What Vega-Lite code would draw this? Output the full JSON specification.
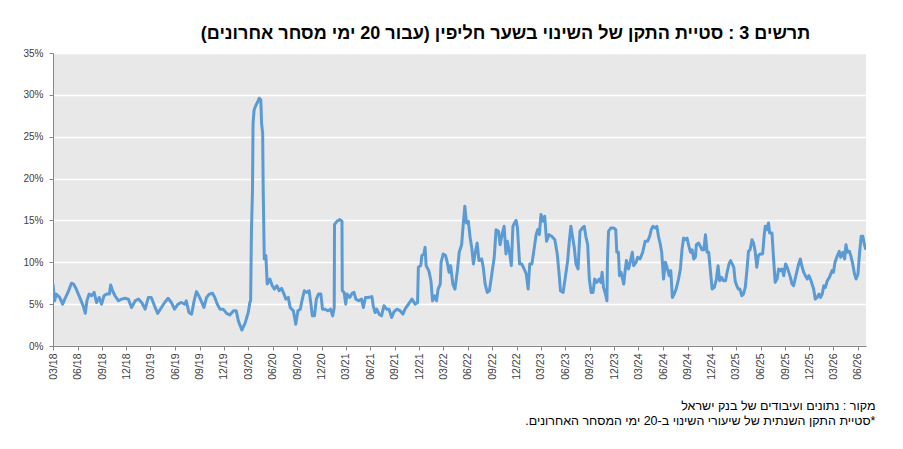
{
  "$schema": "https://vega.github.io/schema/vega-lite/v6.json",
  "width": 813,
  "height": 293,
  "autosize": {"type": "none"},
  "padding": {"left": 53, "top": 53, "right": 37, "bottom": 103},
  "background": "white",
  "title": {
    "text": "תרשים 3 : סטיית התקן של השינוי בשער חליפין (עבור 20 ימי מסחר אחרונים)‏",
    "font": "Liberation Sans",
    "fontSize": 18,
    "fontWeight": "bold",
    "color": "#000000",
    "anchor": "middle",
    "dx": 46,
    "offset": 5
  },
  "config": {
    "font": "Liberation Sans",
    "view": {"fill": "#e8e8e8", "stroke": null}
  },
  "data": {
    "values": [
      {"date": "2018-03-01", "sd": 7.4},
      {"date": "2018-03-07", "sd": 5.4},
      {"date": "2018-03-13", "sd": 6.2},
      {"date": "2018-03-26", "sd": 5.8},
      {"date": "2018-04-06", "sd": 5.0},
      {"date": "2018-04-14", "sd": 5.6},
      {"date": "2018-04-26", "sd": 6.4},
      {"date": "2018-05-09", "sd": 7.5},
      {"date": "2018-05-17", "sd": 7.4},
      {"date": "2018-05-27", "sd": 6.8},
      {"date": "2018-06-09", "sd": 5.8},
      {"date": "2018-06-22", "sd": 4.8},
      {"date": "2018-06-30", "sd": 3.9},
      {"date": "2018-07-06", "sd": 5.4},
      {"date": "2018-07-14", "sd": 6.2},
      {"date": "2018-07-23", "sd": 6.0},
      {"date": "2018-08-02", "sd": 6.4},
      {"date": "2018-08-11", "sd": 5.2},
      {"date": "2018-08-21", "sd": 5.8},
      {"date": "2018-08-30", "sd": 5.0},
      {"date": "2018-09-08", "sd": 6.0},
      {"date": "2018-09-18", "sd": 6.2},
      {"date": "2018-09-28", "sd": 6.2},
      {"date": "2018-10-03", "sd": 7.3},
      {"date": "2018-10-10", "sd": 6.6},
      {"date": "2018-10-19", "sd": 6.0},
      {"date": "2018-11-01", "sd": 5.4},
      {"date": "2018-11-13", "sd": 5.6},
      {"date": "2018-11-26", "sd": 5.7},
      {"date": "2018-12-08", "sd": 5.6},
      {"date": "2018-12-20", "sd": 4.6},
      {"date": "2019-01-03", "sd": 5.4},
      {"date": "2019-01-15", "sd": 5.6},
      {"date": "2019-01-27", "sd": 5.2},
      {"date": "2019-02-09", "sd": 4.4},
      {"date": "2019-02-21", "sd": 5.8},
      {"date": "2019-03-04", "sd": 5.8},
      {"date": "2019-03-16", "sd": 4.8},
      {"date": "2019-03-28", "sd": 3.9},
      {"date": "2019-04-11", "sd": 4.6},
      {"date": "2019-04-23", "sd": 5.2},
      {"date": "2019-05-06", "sd": 5.7},
      {"date": "2019-05-18", "sd": 5.2},
      {"date": "2019-05-30", "sd": 4.4},
      {"date": "2019-06-12", "sd": 5.0},
      {"date": "2019-06-25", "sd": 5.2},
      {"date": "2019-07-07", "sd": 5.0},
      {"date": "2019-07-13", "sd": 5.4},
      {"date": "2019-07-23", "sd": 4.0},
      {"date": "2019-08-02", "sd": 3.8},
      {"date": "2019-08-10", "sd": 5.2},
      {"date": "2019-08-20", "sd": 6.5},
      {"date": "2019-08-29", "sd": 6.0},
      {"date": "2019-09-09", "sd": 5.2},
      {"date": "2019-09-17", "sd": 4.6},
      {"date": "2019-09-27", "sd": 5.8},
      {"date": "2019-10-07", "sd": 6.2},
      {"date": "2019-10-19", "sd": 6.3},
      {"date": "2019-10-28", "sd": 5.8},
      {"date": "2019-11-06", "sd": 5.0},
      {"date": "2019-11-16", "sd": 4.4},
      {"date": "2019-11-28", "sd": 4.4},
      {"date": "2019-12-11", "sd": 3.9},
      {"date": "2019-12-23", "sd": 3.7},
      {"date": "2020-01-06", "sd": 4.2},
      {"date": "2020-01-16", "sd": 4.2},
      {"date": "2020-01-24", "sd": 3.0},
      {"date": "2020-02-06", "sd": 1.9},
      {"date": "2020-02-18", "sd": 2.7},
      {"date": "2020-03-01", "sd": 4.0},
      {"date": "2020-03-07", "sd": 5.2},
      {"date": "2020-03-10", "sd": 5.4},
      {"date": "2020-03-13", "sd": 13.7},
      {"date": "2020-03-17", "sd": 18.7},
      {"date": "2020-03-19", "sd": 26.6},
      {"date": "2020-03-23", "sd": 28.2},
      {"date": "2020-03-29", "sd": 28.7},
      {"date": "2020-04-06", "sd": 29.2},
      {"date": "2020-04-11", "sd": 29.6},
      {"date": "2020-04-17", "sd": 29.4},
      {"date": "2020-04-20", "sd": 26.6},
      {"date": "2020-04-24", "sd": 25.4},
      {"date": "2020-04-26", "sd": 18.7},
      {"date": "2020-04-30", "sd": 10.4},
      {"date": "2020-05-06", "sd": 10.8},
      {"date": "2020-05-11", "sd": 7.4},
      {"date": "2020-05-21", "sd": 8.0},
      {"date": "2020-05-30", "sd": 7.2},
      {"date": "2020-06-07", "sd": 6.8},
      {"date": "2020-06-16", "sd": 7.2},
      {"date": "2020-06-25", "sd": 6.6},
      {"date": "2020-07-04", "sd": 6.9},
      {"date": "2020-07-13", "sd": 6.2},
      {"date": "2020-07-20", "sd": 5.6},
      {"date": "2020-07-29", "sd": 5.8},
      {"date": "2020-08-05", "sd": 4.6},
      {"date": "2020-08-17", "sd": 4.2},
      {"date": "2020-08-26", "sd": 2.6},
      {"date": "2020-09-03", "sd": 4.2},
      {"date": "2020-09-12", "sd": 4.4},
      {"date": "2020-09-18", "sd": 5.4},
      {"date": "2020-09-27", "sd": 6.6},
      {"date": "2020-10-07", "sd": 6.4},
      {"date": "2020-10-15", "sd": 6.6},
      {"date": "2020-10-21", "sd": 5.2},
      {"date": "2020-10-27", "sd": 3.6},
      {"date": "2020-11-04", "sd": 3.6},
      {"date": "2020-11-11", "sd": 5.6},
      {"date": "2020-11-19", "sd": 6.2},
      {"date": "2020-11-28", "sd": 6.2},
      {"date": "2020-12-04", "sd": 4.4},
      {"date": "2020-12-14", "sd": 4.4},
      {"date": "2020-12-24", "sd": 4.2},
      {"date": "2021-01-03", "sd": 4.4},
      {"date": "2021-01-11", "sd": 3.6},
      {"date": "2021-01-17", "sd": 4.6},
      {"date": "2021-01-18", "sd": 14.5},
      {"date": "2021-01-27", "sd": 14.9},
      {"date": "2021-02-07", "sd": 15.1},
      {"date": "2021-02-15", "sd": 14.9},
      {"date": "2021-02-16", "sd": 6.6},
      {"date": "2021-02-23", "sd": 6.4},
      {"date": "2021-03-01", "sd": 5.0},
      {"date": "2021-03-06", "sd": 6.2},
      {"date": "2021-03-16", "sd": 5.8},
      {"date": "2021-03-25", "sd": 6.3},
      {"date": "2021-04-01", "sd": 6.4},
      {"date": "2021-04-08", "sd": 5.6},
      {"date": "2021-04-19", "sd": 5.4},
      {"date": "2021-04-29", "sd": 5.6},
      {"date": "2021-05-06", "sd": 4.6},
      {"date": "2021-05-14", "sd": 5.8},
      {"date": "2021-05-24", "sd": 5.8},
      {"date": "2021-06-07", "sd": 5.9},
      {"date": "2021-06-12", "sd": 4.8},
      {"date": "2021-06-19", "sd": 4.0},
      {"date": "2021-06-25", "sd": 4.4},
      {"date": "2021-07-04", "sd": 3.8},
      {"date": "2021-07-13", "sd": 3.6},
      {"date": "2021-07-22", "sd": 4.8},
      {"date": "2021-08-02", "sd": 4.4},
      {"date": "2021-08-10", "sd": 4.4},
      {"date": "2021-08-20", "sd": 3.4},
      {"date": "2021-08-29", "sd": 4.1},
      {"date": "2021-09-09", "sd": 4.4},
      {"date": "2021-09-21", "sd": 4.2},
      {"date": "2021-10-01", "sd": 3.8},
      {"date": "2021-10-09", "sd": 4.4},
      {"date": "2021-10-22", "sd": 5.0},
      {"date": "2021-11-04", "sd": 5.6},
      {"date": "2021-11-16", "sd": 5.0},
      {"date": "2021-11-25", "sd": 5.2},
      {"date": "2021-11-28", "sd": 9.4},
      {"date": "2021-12-07", "sd": 9.6},
      {"date": "2021-12-11", "sd": 10.8},
      {"date": "2021-12-19", "sd": 11.0},
      {"date": "2021-12-23", "sd": 11.8},
      {"date": "2021-12-27", "sd": 9.6},
      {"date": "2022-01-06", "sd": 9.0},
      {"date": "2022-01-14", "sd": 7.8},
      {"date": "2022-01-20", "sd": 5.4},
      {"date": "2022-01-28", "sd": 6.0},
      {"date": "2022-02-04", "sd": 5.4},
      {"date": "2022-02-10", "sd": 6.8},
      {"date": "2022-02-18", "sd": 7.4},
      {"date": "2022-02-21", "sd": 10.0},
      {"date": "2022-03-01", "sd": 11.0},
      {"date": "2022-03-10", "sd": 10.8},
      {"date": "2022-03-16", "sd": 10.0},
      {"date": "2022-03-23", "sd": 8.8},
      {"date": "2022-03-29", "sd": 9.6},
      {"date": "2022-04-06", "sd": 7.4},
      {"date": "2022-04-14", "sd": 6.8},
      {"date": "2022-04-23", "sd": 9.0},
      {"date": "2022-04-30", "sd": 11.2},
      {"date": "2022-05-09", "sd": 12.1},
      {"date": "2022-05-15", "sd": 14.5},
      {"date": "2022-05-21", "sd": 16.7},
      {"date": "2022-05-27", "sd": 14.7},
      {"date": "2022-06-03", "sd": 14.9},
      {"date": "2022-06-10", "sd": 12.9},
      {"date": "2022-06-16", "sd": 11.7},
      {"date": "2022-06-22", "sd": 9.8},
      {"date": "2022-06-28", "sd": 11.0},
      {"date": "2022-07-06", "sd": 12.3},
      {"date": "2022-07-13", "sd": 10.2},
      {"date": "2022-07-23", "sd": 10.4},
      {"date": "2022-07-29", "sd": 9.4},
      {"date": "2022-08-05", "sd": 7.4},
      {"date": "2022-08-13", "sd": 6.4},
      {"date": "2022-08-21", "sd": 6.6},
      {"date": "2022-08-30", "sd": 8.6},
      {"date": "2022-09-08", "sd": 10.6},
      {"date": "2022-09-15", "sd": 13.9},
      {"date": "2022-09-24", "sd": 13.7},
      {"date": "2022-09-30", "sd": 12.1},
      {"date": "2022-10-07", "sd": 13.3},
      {"date": "2022-10-15", "sd": 14.3},
      {"date": "2022-10-22", "sd": 11.0},
      {"date": "2022-10-27", "sd": 12.5},
      {"date": "2022-11-05", "sd": 11.0},
      {"date": "2022-11-11", "sd": 9.6},
      {"date": "2022-11-17", "sd": 14.3},
      {"date": "2022-11-23", "sd": 14.7},
      {"date": "2022-11-29", "sd": 15.0},
      {"date": "2022-12-04", "sd": 14.1},
      {"date": "2022-12-12", "sd": 9.8},
      {"date": "2022-12-20", "sd": 9.8},
      {"date": "2022-12-29", "sd": 9.2},
      {"date": "2023-01-06", "sd": 8.6},
      {"date": "2023-01-13", "sd": 6.8},
      {"date": "2023-01-19", "sd": 9.8},
      {"date": "2023-01-27", "sd": 9.8},
      {"date": "2023-02-03", "sd": 11.3},
      {"date": "2023-02-12", "sd": 13.3},
      {"date": "2023-02-18", "sd": 13.9},
      {"date": "2023-02-24", "sd": 13.3},
      {"date": "2023-03-02", "sd": 15.7},
      {"date": "2023-03-10", "sd": 14.9},
      {"date": "2023-03-16", "sd": 15.5},
      {"date": "2023-03-23", "sd": 12.5},
      {"date": "2023-04-01", "sd": 13.3},
      {"date": "2023-04-11", "sd": 13.1},
      {"date": "2023-04-23", "sd": 12.7},
      {"date": "2023-05-02", "sd": 11.0},
      {"date": "2023-05-09", "sd": 8.6},
      {"date": "2023-05-14", "sd": 6.6},
      {"date": "2023-05-24", "sd": 6.4},
      {"date": "2023-06-03", "sd": 8.6},
      {"date": "2023-06-10", "sd": 10.2},
      {"date": "2023-06-16", "sd": 12.5},
      {"date": "2023-06-22", "sd": 14.3},
      {"date": "2023-06-29", "sd": 12.9},
      {"date": "2023-07-05", "sd": 11.7},
      {"date": "2023-07-11", "sd": 9.8},
      {"date": "2023-07-19", "sd": 9.2},
      {"date": "2023-07-26", "sd": 13.7},
      {"date": "2023-08-04", "sd": 14.1},
      {"date": "2023-08-11", "sd": 14.3},
      {"date": "2023-08-17", "sd": 13.1},
      {"date": "2023-08-24", "sd": 12.1},
      {"date": "2023-08-30", "sd": 8.0},
      {"date": "2023-09-06", "sd": 6.4},
      {"date": "2023-09-13", "sd": 6.4},
      {"date": "2023-09-19", "sd": 8.0},
      {"date": "2023-09-27", "sd": 7.6},
      {"date": "2023-10-06", "sd": 8.0},
      {"date": "2023-10-12", "sd": 7.6},
      {"date": "2023-10-17", "sd": 8.8},
      {"date": "2023-10-22", "sd": 7.0},
      {"date": "2023-10-28", "sd": 6.4},
      {"date": "2023-11-04", "sd": 5.4},
      {"date": "2023-11-06", "sd": 10.3},
      {"date": "2023-11-10", "sd": 13.7},
      {"date": "2023-11-19", "sd": 14.1},
      {"date": "2023-11-29", "sd": 14.1},
      {"date": "2023-12-07", "sd": 13.9},
      {"date": "2023-12-11", "sd": 11.2},
      {"date": "2023-12-17", "sd": 11.2},
      {"date": "2023-12-21", "sd": 8.4},
      {"date": "2023-12-27", "sd": 8.8},
      {"date": "2024-01-06", "sd": 7.4},
      {"date": "2024-01-12", "sd": 9.2},
      {"date": "2024-01-16", "sd": 10.2},
      {"date": "2024-01-24", "sd": 9.2},
      {"date": "2024-01-30", "sd": 10.0},
      {"date": "2024-02-07", "sd": 11.2},
      {"date": "2024-02-12", "sd": 9.6},
      {"date": "2024-02-21", "sd": 10.0},
      {"date": "2024-02-27", "sd": 10.6},
      {"date": "2024-03-07", "sd": 10.4},
      {"date": "2024-03-17", "sd": 11.2},
      {"date": "2024-03-26", "sd": 12.5},
      {"date": "2024-04-04", "sd": 12.5},
      {"date": "2024-04-12", "sd": 13.1},
      {"date": "2024-04-18", "sd": 13.9},
      {"date": "2024-04-24", "sd": 14.3},
      {"date": "2024-05-03", "sd": 14.1},
      {"date": "2024-05-09", "sd": 14.3},
      {"date": "2024-05-15", "sd": 13.1},
      {"date": "2024-05-21", "sd": 12.3},
      {"date": "2024-05-27", "sd": 11.2},
      {"date": "2024-06-03", "sd": 8.0},
      {"date": "2024-06-10", "sd": 10.0},
      {"date": "2024-06-16", "sd": 9.4},
      {"date": "2024-06-24", "sd": 8.4},
      {"date": "2024-06-30", "sd": 9.0},
      {"date": "2024-07-06", "sd": 5.8},
      {"date": "2024-07-13", "sd": 6.2},
      {"date": "2024-07-20", "sd": 6.8},
      {"date": "2024-07-29", "sd": 8.0},
      {"date": "2024-08-05", "sd": 9.2},
      {"date": "2024-08-11", "sd": 11.5},
      {"date": "2024-08-17", "sd": 12.9},
      {"date": "2024-08-23", "sd": 12.7},
      {"date": "2024-08-30", "sd": 12.9},
      {"date": "2024-09-06", "sd": 11.9},
      {"date": "2024-09-12", "sd": 11.2},
      {"date": "2024-09-18", "sd": 11.5},
      {"date": "2024-09-24", "sd": 10.4},
      {"date": "2024-09-30", "sd": 10.6},
      {"date": "2024-10-04", "sd": 12.1},
      {"date": "2024-10-12", "sd": 12.3},
      {"date": "2024-10-19", "sd": 11.9},
      {"date": "2024-10-25", "sd": 11.5},
      {"date": "2024-11-01", "sd": 11.5},
      {"date": "2024-11-07", "sd": 13.3},
      {"date": "2024-11-13", "sd": 11.2},
      {"date": "2024-11-19", "sd": 11.2},
      {"date": "2024-11-26", "sd": 8.8},
      {"date": "2024-12-02", "sd": 6.8},
      {"date": "2024-12-10", "sd": 7.0},
      {"date": "2024-12-18", "sd": 8.0},
      {"date": "2024-12-24", "sd": 9.6},
      {"date": "2024-12-30", "sd": 7.8},
      {"date": "2025-01-06", "sd": 8.2},
      {"date": "2025-01-13", "sd": 7.8},
      {"date": "2025-01-21", "sd": 7.8},
      {"date": "2025-01-27", "sd": 8.8},
      {"date": "2025-02-03", "sd": 9.8},
      {"date": "2025-02-09", "sd": 10.2},
      {"date": "2025-02-15", "sd": 9.8},
      {"date": "2025-02-21", "sd": 9.4},
      {"date": "2025-02-26", "sd": 7.8},
      {"date": "2025-03-04", "sd": 7.2},
      {"date": "2025-03-10", "sd": 6.8},
      {"date": "2025-03-16", "sd": 6.8},
      {"date": "2025-03-23", "sd": 6.0},
      {"date": "2025-03-29", "sd": 6.2},
      {"date": "2025-04-05", "sd": 7.0},
      {"date": "2025-04-11", "sd": 9.0},
      {"date": "2025-04-17", "sd": 11.3},
      {"date": "2025-04-23", "sd": 11.5},
      {"date": "2025-04-30", "sd": 12.7},
      {"date": "2025-05-06", "sd": 12.3},
      {"date": "2025-05-12", "sd": 11.3},
      {"date": "2025-05-18", "sd": 9.4},
      {"date": "2025-05-24", "sd": 10.8},
      {"date": "2025-05-30", "sd": 11.0},
      {"date": "2025-06-09", "sd": 11.0},
      {"date": "2025-06-15", "sd": 13.3},
      {"date": "2025-06-19", "sd": 14.3},
      {"date": "2025-06-25", "sd": 13.9},
      {"date": "2025-07-01", "sd": 14.7},
      {"date": "2025-07-05", "sd": 13.5},
      {"date": "2025-07-14", "sd": 13.5},
      {"date": "2025-07-20", "sd": 10.4},
      {"date": "2025-07-26", "sd": 7.6},
      {"date": "2025-08-02", "sd": 8.0},
      {"date": "2025-08-08", "sd": 9.2},
      {"date": "2025-08-14", "sd": 9.0},
      {"date": "2025-08-21", "sd": 9.2},
      {"date": "2025-08-27", "sd": 8.4},
      {"date": "2025-09-03", "sd": 9.8},
      {"date": "2025-09-09", "sd": 9.4},
      {"date": "2025-09-15", "sd": 8.8},
      {"date": "2025-09-21", "sd": 8.2},
      {"date": "2025-09-27", "sd": 7.4},
      {"date": "2025-10-03", "sd": 7.2},
      {"date": "2025-10-10", "sd": 8.2},
      {"date": "2025-10-16", "sd": 9.0},
      {"date": "2025-10-22", "sd": 9.8},
      {"date": "2025-10-28", "sd": 10.4},
      {"date": "2025-11-04", "sd": 9.4},
      {"date": "2025-11-10", "sd": 8.8},
      {"date": "2025-11-16", "sd": 8.4},
      {"date": "2025-11-23", "sd": 8.0},
      {"date": "2025-11-29", "sd": 8.4},
      {"date": "2025-12-05", "sd": 8.0},
      {"date": "2025-12-11", "sd": 7.4},
      {"date": "2025-12-17", "sd": 6.8},
      {"date": "2025-12-23", "sd": 5.6},
      {"date": "2025-12-30", "sd": 5.8},
      {"date": "2026-01-06", "sd": 6.2},
      {"date": "2026-01-12", "sd": 5.8},
      {"date": "2026-01-18", "sd": 6.2},
      {"date": "2026-01-24", "sd": 7.2},
      {"date": "2026-01-30", "sd": 7.0},
      {"date": "2026-02-06", "sd": 7.8},
      {"date": "2026-02-14", "sd": 8.2},
      {"date": "2026-02-24", "sd": 9.0},
      {"date": "2026-03-01", "sd": 8.8},
      {"date": "2026-03-07", "sd": 10.0},
      {"date": "2026-03-16", "sd": 10.8},
      {"date": "2026-03-23", "sd": 11.3},
      {"date": "2026-03-28", "sd": 10.6},
      {"date": "2026-04-06", "sd": 11.2},
      {"date": "2026-04-12", "sd": 10.4},
      {"date": "2026-04-17", "sd": 12.1},
      {"date": "2026-04-23", "sd": 11.2},
      {"date": "2026-04-30", "sd": 11.3},
      {"date": "2026-05-05", "sd": 10.8},
      {"date": "2026-05-11", "sd": 10.0},
      {"date": "2026-05-19", "sd": 8.6},
      {"date": "2026-05-25", "sd": 8.0},
      {"date": "2026-06-01", "sd": 8.6},
      {"date": "2026-06-07", "sd": 11.2},
      {"date": "2026-06-13", "sd": 13.1},
      {"date": "2026-06-19", "sd": 13.1},
      {"date": "2026-06-25", "sd": 12.1},
      {"date": "2026-07-01", "sd": 11.5}
    ]
  },
  "mark": {
    "type": "line",
    "color": "#5b9bd5",
    "strokeWidth": 3,
    "strokeJoin": "round",
    "clip": true
  },
  "encoding": {
    "x": {
      "field": "date",
      "type": "temporal",
      "scale": {
        "type": "utc",
        "domain": [
          {"year": 2018, "month": 3, "date": 1, "utc": true},
          {"year": 2026, "month": 7, "date": 1, "utc": true}
        ]
      },
      "axis": {
        "format": "%m/%y",
        "labelAngle": -90,
        "labelFontSize": 10.5,
        "labelColor": "#404040",
        "labelPadding": 3,
        "tickSize": 4,
        "tickColor": "#868686",
        "domainColor": "#868686",
        "grid": false,
        "labelOverlap": false,
        "values": [
          {"year": 2018, "month": 3, "date": 1, "utc": true},
          {"year": 2018, "month": 6, "date": 1, "utc": true},
          {"year": 2018, "month": 9, "date": 1, "utc": true},
          {"year": 2018, "month": 12, "date": 1, "utc": true},
          {"year": 2019, "month": 3, "date": 1, "utc": true},
          {"year": 2019, "month": 6, "date": 1, "utc": true},
          {"year": 2019, "month": 9, "date": 1, "utc": true},
          {"year": 2019, "month": 12, "date": 1, "utc": true},
          {"year": 2020, "month": 3, "date": 1, "utc": true},
          {"year": 2020, "month": 6, "date": 1, "utc": true},
          {"year": 2020, "month": 9, "date": 1, "utc": true},
          {"year": 2020, "month": 12, "date": 1, "utc": true},
          {"year": 2021, "month": 3, "date": 1, "utc": true},
          {"year": 2021, "month": 6, "date": 1, "utc": true},
          {"year": 2021, "month": 9, "date": 1, "utc": true},
          {"year": 2021, "month": 12, "date": 1, "utc": true},
          {"year": 2022, "month": 3, "date": 1, "utc": true},
          {"year": 2022, "month": 6, "date": 1, "utc": true},
          {"year": 2022, "month": 9, "date": 1, "utc": true},
          {"year": 2022, "month": 12, "date": 1, "utc": true},
          {"year": 2023, "month": 3, "date": 1, "utc": true},
          {"year": 2023, "month": 6, "date": 1, "utc": true},
          {"year": 2023, "month": 9, "date": 1, "utc": true},
          {"year": 2023, "month": 12, "date": 1, "utc": true},
          {"year": 2024, "month": 3, "date": 1, "utc": true},
          {"year": 2024, "month": 6, "date": 1, "utc": true},
          {"year": 2024, "month": 9, "date": 1, "utc": true},
          {"year": 2024, "month": 12, "date": 1, "utc": true},
          {"year": 2025, "month": 3, "date": 1, "utc": true},
          {"year": 2025, "month": 6, "date": 1, "utc": true},
          {"year": 2025, "month": 9, "date": 1, "utc": true},
          {"year": 2025, "month": 12, "date": 1, "utc": true},
          {"year": 2026, "month": 3, "date": 1, "utc": true},
          {"year": 2026, "month": 6, "date": 1, "utc": true}
        ],
        "title": [
          "מקור : נתונים ועיבודים של בנק ישראל",
          "‏*סטיית התקן השנתית של שיעורי השינוי ב-20 ימי המסחר האחרונים.‏"
        ],
        "titleFont": "Liberation Sans",
        "titleFontSize": 12.5,
        "titleFontWeight": "normal",
        "titleColor": "#000000",
        "titleAlign": "right",
        "titleAnchor": "end",
        "titleBaseline": "alphabetic",
        "titleX": 822,
        "titleY": 63,
        "titleLineHeight": 15
      }
    },
    "y": {
      "field": "sd",
      "type": "quantitative",
      "scale": {"domain": [0, 35], "nice": false},
      "axis": {
        "title": null,
        "values": [0, 5, 10, 15, 20, 25, 30, 35],
        "labelExpr": "datum.value + '%'",
        "labelFontSize": 10,
        "labelColor": "#404040",
        "labelPadding": 6,
        "tickSize": 4,
        "tickColor": "#868686",
        "domainColor": "#868686",
        "gridColor": "#ffffff",
        "gridWidth": 1.3
      }
    }
  }
}
